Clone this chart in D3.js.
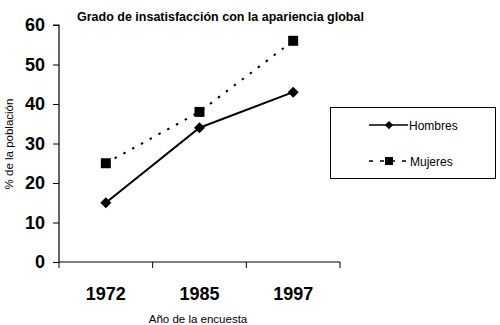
<!DOCTYPE html>
<html><head><meta charset="utf-8">
<script src="https://cdn.jsdelivr.net/npm/d3@7"></script>
<style>body{margin:0;background:#fff}svg{display:block}text{font-family:"Liberation Sans",Arial,sans-serif;fill:#000}</style>
</head><body>
<svg id="c" width="500" height="325"></svg>
<script>
const categories = ["1972", "1985", "1997"];
const hombres = [15, 34, 43];
const mujeres = [25, 38, 56];
const yTicks = [0, 10, 20, 30, 40, 50, 60];
const seriesNames = ["Hombres", "Mujeres"];
const title = "Grado de insatisfacción con la apariencia global";
const xTitle = "Año de la encuesta";
const yTitle = "% de la población";

const svg = d3.select("#c");
const x = d3.scaleBand().domain(categories).range([59, 340]);
const y = d3.scaleLinear().domain([0, 60]).range([262, 25]);

// axes
const yAxis = svg.append("g").attr("transform", "translate(59,0)")
  .call(d3.axisLeft(y).tickValues(yTicks).tickSize(6).tickPadding(8));
yAxis.select(".domain").attr("stroke", "#000").attr("stroke-width", 1.2).attr("d", `M-6,${y(60)}H0V${y(0)}`);
yAxis.selectAll("text").style("font-size", "18px").style("font-weight", "bold").attr("font-family", null);

const xg = svg.append("g").attr("transform", `translate(0,${y(0)})`);
xg.append("line").attr("x1", 59).attr("x2", 340).attr("stroke", "#000").attr("stroke-width", 1.2);
const bounds = [59, ...categories.map(c => x(c) + x.bandwidth())];
xg.selectAll(".tk").data(bounds).join("line").attr("x1", d => d).attr("x2", d => d)
  .attr("y1", 0).attr("y2", 6).attr("stroke", "#000");
xg.selectAll(".lb").data(categories).join("text")
  .attr("x", d => x(d) + x.bandwidth() / 2).attr("y", 38)
  .attr("text-anchor", "middle").style("font-size", "18px").style("font-weight", "bold").text(d => d);

// titles
svg.append("text").attr("x", 77).attr("y", 21).style("font-size", "12.5px").style("font-weight", "bold").text(title);
svg.append("text").attr("x", 198).attr("y", 323).attr("text-anchor", "middle").style("font-size", "11.5px").text(xTitle);
svg.append("text").attr("transform", "translate(13,144) rotate(-90)").attr("text-anchor", "middle").style("font-size", "11.5px").text(yTitle);

const cx = c => x(c) + x.bandwidth() / 2;
const line = d3.line().x((d, i) => cx(categories[i])).y(d => y(d));

svg.append("path").datum(mujeres).attr("d", line).attr("fill", "none").attr("stroke", "#000")
  .attr("stroke-width", 2).attr("stroke-dasharray", "2.5,7.5");
svg.append("path").datum(hombres).attr("d", line).attr("fill", "none").attr("stroke", "#000").attr("stroke-width", 2);

const diamond = (g, px, py) => g.append("path").attr("d", `M${px},${py-5.5}L${px+5.5},${py}L${px},${py+5.5}L${px-5.5},${py}Z`).attr("fill", "#000");
const square = (g, px, py) => g.append("rect").attr("x", px - 5).attr("y", py - 5).attr("width", 10).attr("height", 10).attr("fill", "#000");

hombres.forEach((v, i) => diamond(svg, cx(categories[i]), y(v)));
mujeres.forEach((v, i) => square(svg, cx(categories[i]), y(v)));

// legend
const lg = svg.append("g");
lg.append("rect").attr("x", 330.5).attr("y", 107.5).attr("width", 165).attr("height", 71).attr("fill", "#fff").attr("stroke", "#000");
lg.append("line").attr("x1", 369).attr("x2", 408).attr("y1", 125).attr("y2", 125).attr("stroke", "#000").attr("stroke-width", 1.5);
diamond(lg, 389, 125).attr("transform", "translate(389,125) scale(0.75) translate(-389,-125)");
lg.append("text").attr("x", 409).attr("y", 129.5).style("font-size", "12px").text(seriesNames[0]);
lg.append("line").attr("x1", 369).attr("x2", 408).attr("y1", 161).attr("y2", 161).attr("stroke", "#000").attr("stroke-width", 1.5).attr("stroke-dasharray", "4,7");
lg.append("rect").attr("x", 385).attr("y", 157).attr("width", 8).attr("height", 8).attr("fill", "#000");
lg.append("text").attr("x", 410).attr("y", 165.5).style("font-size", "12px").text(seriesNames[1]);
</script>
</body></html>
